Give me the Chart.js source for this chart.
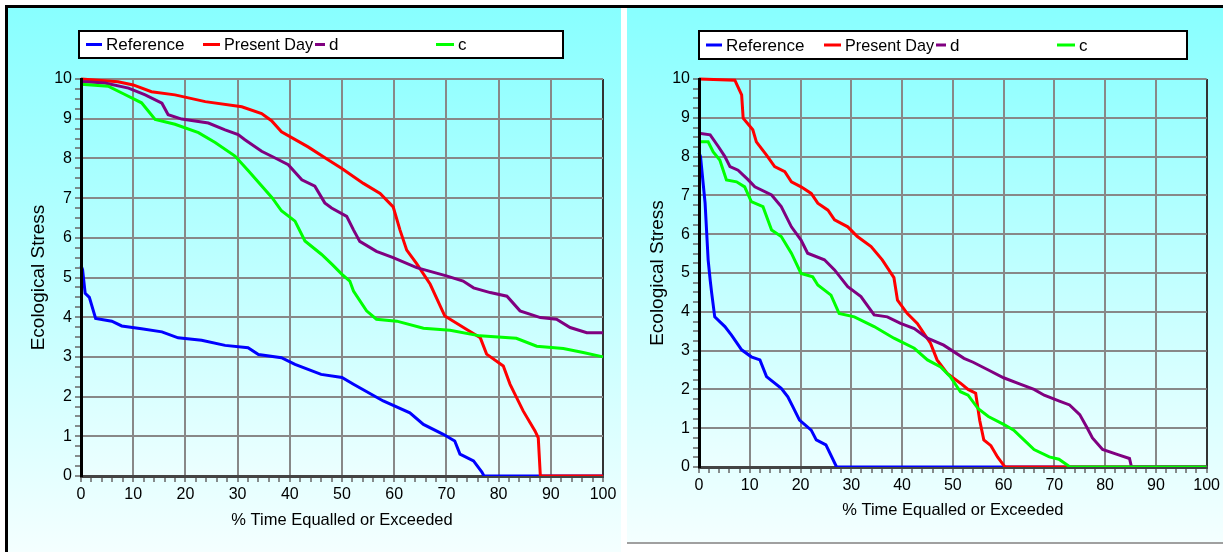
<!DOCTYPE html>
<html>
<head>
<meta charset="utf-8">
<title>Ecological Stress</title>
<script src="https://cdn.jsdelivr.net/npm/chart.js@4.4.0/dist/chart.umd.min.js"></script>
<style>
body { margin: 0; background: #fff; width: 1223px; height: 552px; overflow: hidden; position: relative; }
#topline { position: absolute; left: 5px; top: 5px; width: 1218px; height: 3px; background: #000; }
#leftline { position: absolute; left: 5px; top: 5px; width: 3px; height: 547px; background: #000; }
#bottomline { position: absolute; left: 627px; top: 542px; width: 596px; height: 2px; background: #a0a0a0; }
#chartLeft { position: absolute; left: 8px; top: 8px; }
#chartRight { position: absolute; left: 627px; top: 8px; }
</style>
</head>
<body>
<div id="topline"></div>
<div id="leftline"></div>
<canvas id="chartLeft" width="613" height="544"></canvas>
<canvas id="chartRight" width="596" height="534"></canvas>
<div id="bottomline"></div>
<script>
var seriesNames = ['Reference', 'Present Day', 'd', 'c'];
var seriesColors = ['#0000ff', '#ff0000', '#800080', '#00ff00'];

// left panel
var leftRefPct = [0, 0.3, 0.8, 1.6, 2.8, 5.9, 7.8, 11.6, 15.5, 18.6, 23.1, 27.6, 32, 34, 38.4, 41, 46, 50, 52.2, 57.9, 63, 65.6, 69.4, 71.6, 72.6, 75.2, 76.8, 77.2, 100];
var leftRefStress = [5.3, 5.2, 4.6, 4.5, 3.97, 3.9, 3.78, 3.71, 3.63, 3.48, 3.42, 3.29, 3.23, 3.06, 2.98, 2.81, 2.56, 2.48, 2.31, 1.89, 1.59, 1.3, 1.05, 0.88, 0.55, 0.38, 0.1, 0, 0];
var leftPresentPct = [0, 7.1, 10, 13.5, 18, 23.8, 30.8, 34.6, 36.5, 38.4, 43.5, 47.4, 49.9, 54.1, 57.3, 59.8, 61.1, 62.4, 64.3, 66.9, 69.7, 73.9, 76.5, 77.7, 80.9, 82.2, 84.7, 87, 87.6, 88, 100];
var leftPresentStress = [10, 9.93, 9.85, 9.68, 9.6, 9.43, 9.3, 9.13, 8.95, 8.67, 8.29, 7.96, 7.75, 7.37, 7.12, 6.78, 6.2, 5.69, 5.35, 4.83, 4.03, 3.69, 3.48, 3.07, 2.77, 2.31, 1.64, 1.13, 0.96, 0, 0];
var leftDPct = [0, 4.6, 9.1, 12.3, 15.5, 16.7, 19.3, 24.4, 27.6, 30.1, 31.4, 34.6, 37.2, 39.7, 42.3, 44.8, 46.7, 48, 50.9, 52.2, 53.4, 56.6, 59.8, 64.3, 70, 73.2, 75.2, 78.4, 81.6, 84.1, 88, 91.1, 93.7, 96.9, 100];
var leftDStress = [9.94, 9.9, 9.77, 9.6, 9.39, 9.1, 8.99, 8.89, 8.72, 8.6, 8.47, 8.18, 8.01, 7.84, 7.46, 7.3, 6.88, 6.75, 6.54, 6.2, 5.91, 5.66, 5.5, 5.25, 5.04, 4.91, 4.74, 4.62, 4.53, 4.16, 3.99, 3.95, 3.74, 3.61, 3.61];
var leftCPct = [0, 5.2, 8.4, 11.6, 14.2, 18, 22.5, 25.7, 29.5, 32.1, 36.6, 38.4, 41, 42.9, 46.1, 48.1, 50, 51.5, 52.2, 54.7, 56.6, 60.5, 65.6, 70.7, 76.4, 83.4, 87.3, 92.4, 96.2, 100];
var leftCStress = [9.87, 9.82, 9.61, 9.4, 8.98, 8.86, 8.65, 8.4, 8.06, 7.68, 7.01, 6.68, 6.42, 5.92, 5.58, 5.33, 5.08, 4.91, 4.66, 4.16, 3.95, 3.9, 3.72, 3.67, 3.53, 3.47, 3.27, 3.21, 3.11, 3.0];

// right panel
var rightRefPct = [0, 0.3, 1.2, 1.8, 2.2, 2.5, 3.1, 5.1, 6.4, 8.4, 10.3, 12, 13.3, 16.2, 17.5, 18.5, 19.8, 22.1, 23.1, 25, 27.1, 100];
var rightRefStress = [8.1, 8.0, 6.8, 5.34, 4.82, 4.48, 3.87, 3.62, 3.4, 3.02, 2.84, 2.76, 2.33, 2.03, 1.81, 1.55, 1.21, 0.95, 0.7, 0.57, 0, 0];
var rightPresentPct = [0, 7.06, 8.4, 8.7, 10.6, 11.3, 13.3, 14.9, 16.9, 18.2, 20.1, 22.1, 23.4, 25.4, 26.7, 29.3, 31.2, 33.9, 36.1, 38.4, 39.1, 41, 43, 45.6, 46.9, 48.9, 51.5, 53, 54.5, 55.3, 56.1, 57.5, 58.8, 60, 60.3, 100];
var rightPresentStress = [10, 9.97, 9.59, 8.99, 8.69, 8.38, 8.04, 7.74, 7.61, 7.35, 7.22, 7.05, 6.8, 6.62, 6.37, 6.19, 5.94, 5.68, 5.34, 4.88, 4.3, 3.96, 3.7, 3.19, 2.76, 2.41, 2.16, 2.0, 1.9, 1.2, 0.7, 0.55, 0.26, 0.05, 0, 0];
var rightDPct = [0, 2.2, 3.8, 5.1, 6.1, 7.7, 9.7, 11, 14.3, 16.2, 18.2, 20.1, 21.4, 24.7, 26.7, 29.3, 31.9, 34.5, 37.1, 39.7, 42.4, 45, 48.2, 52.2, 54, 57, 60, 63, 66, 68, 71, 73, 75, 76.5, 77.5, 79.5, 82.5, 84.8, 85.2, 100];
var rightDStress = [8.6, 8.56, 8.26, 8.0, 7.74, 7.65, 7.4, 7.22, 7.01, 6.71, 6.19, 5.85, 5.51, 5.34, 5.08, 4.65, 4.39, 3.92, 3.87, 3.7, 3.57, 3.32, 3.14, 2.8, 2.7, 2.5, 2.3, 2.15, 2.0, 1.85, 1.7, 1.6, 1.35, 1.0, 0.75, 0.45, 0.32, 0.22, 0, 0];
var rightCPct = [0, 1.8, 2.8, 4.1, 5.4, 7.4, 9, 10.3, 12.6, 14.3, 16.2, 18.2, 20.1, 22.4, 23.4, 26, 27.6, 30.6, 34.5, 38.4, 42.4, 45, 47.6, 49.5, 51.5, 53, 55, 57, 60, 62, 64, 66, 69, 70.9, 73.1, 100];
var rightCStress = [8.38, 8.38, 8.12, 7.91, 7.4, 7.35, 7.22, 6.84, 6.71, 6.11, 5.94, 5.51, 4.99, 4.9, 4.69, 4.43, 3.96, 3.87, 3.62, 3.32, 3.06, 2.76, 2.58, 2.33, 1.94, 1.85, 1.5, 1.3, 1.1, 0.95, 0.7, 0.45, 0.26, 0.2, 0, 0];

var fontFamily = '"Liberation Sans", Arial, sans-serif';

function toPoints(xs, ys) {
    return xs.map(function (x, i) { return { x: x, y: ys[i] }; });
}

// gradient page behind the chart, lighter gradient inside the plot area
var panelBackground = {
    id: 'panelBackground',
    beforeDraw: function (chart) {
        var ctx = chart.ctx, a = chart.chartArea;
        var g = ctx.createLinearGradient(0, 0, 0, chart.height);
        g.addColorStop(0, '#88ffff');
        g.addColorStop(1, '#f4ffff');
        ctx.save();
        ctx.fillStyle = g;
        ctx.fillRect(0, 0, chart.width, chart.height);
        var g2 = ctx.createLinearGradient(0, a.top, 0, a.bottom);
        g2.addColorStop(0, '#94ffff');
        g2.addColorStop(1, '#ecffff');
        ctx.fillStyle = g2;
        ctx.fillRect(a.left, a.top, a.right - a.left, a.bottom - a.top);
        ctx.restore();
    }
};

// boxed legend row above the plot; each label is squeezed to fit before the next marker
var boxLegend = {
    id: 'boxLegend',
    afterDraw: function (chart, args, opts) {
        var ctx = chart.ctx;
        ctx.save();
        ctx.fillStyle = '#fff';
        ctx.fillRect(opts.left, opts.top, opts.width, opts.height);
        ctx.lineWidth = 2;
        ctx.strokeStyle = '#000';
        ctx.strokeRect(opts.left, opts.top, opts.width, opts.height);
        var cy = opts.top + opts.height / 2;
        ctx.font = '17px ' + fontFamily;
        ctx.textBaseline = 'middle';
        var ds = chart.data.datasets;
        ds.forEach(function (d, i) {
            var tx = opts.left + opts.offsets[i];
            ctx.strokeStyle = d.borderColor;
            ctx.lineWidth = 3;
            ctx.beginPath();
            ctx.moveTo(tx - opts.dash[i], cy);
            ctx.lineTo(tx - 4, cy);
            ctx.stroke();
            ctx.fillStyle = '#000';
            var room = i + 1 < ds.length
                ? opts.offsets[i + 1] - opts.dash[i + 1] - opts.offsets[i] - 2
                : opts.width - opts.offsets[i] - 4;
            ctx.fillText(d.label, tx, cy + 1, room);
        });
        ctx.restore();
    }
};

function makeChart(id, series, cfg) {
    var datasets = series.map(function (s, i) {
        return {
            label: seriesNames[i],
            data: toPoints(s[0], s[1]),
            borderColor: seriesColors[i],
            backgroundColor: seriesColors[i],
            borderWidth: 3,
            pointRadius: 0,
            tension: 0,
            fill: false,
            clip: { left: 4, top: 4, right: 4, bottom: 0 },
            order: 4 - i
        };
    });
    return new Chart(document.getElementById(id), {
        type: 'line',
        data: { datasets: datasets },
        options: {
            responsive: false,
            maintainAspectRatio: false,
            animation: false,
            layout: { padding: { top: 71, right: cfg.rightPad, bottom: 0, left: 0 } },
            plugins: {
                legend: { display: false },
                tooltip: { enabled: false },
                boxLegend: cfg.legend
            },
            scales: {
                x: {
                    type: 'linear',
                    min: 0,
                    max: 100,
                    ticks: {
                        stepSize: 2,
                        autoSkip: false,
                        maxRotation: 0,
                        padding: 3,
                        color: '#000',
                        font: { family: fontFamily, size: 16 },
                        callback: function (v) { return v % 10 === 0 ? String(v) : ''; }
                    },
                    grid: {
                        lineWidth: 2,
                        tickLength: 6,
                        tickWidth: 1.5,
                        tickColor: '#666',
                        color: function (c) {
                            if (!c.tick || c.tick.value % 10 !== 0) return 'rgba(0,0,0,0)';
                            return c.tick.value === 100 ? '#333' : '#888';
                        }
                    },
                    border: { color: '#444', width: 3 },
                    title: {
                        display: true,
                        text: '% Time Equalled or Exceeded',
                        color: '#000',
                        font: { family: fontFamily, size: 16.5 },
                        padding: { top: 0, bottom: 22 }
                    },
                    afterFit: function (s) { s.height = cfg.xHeight; }
                },
                y: {
                    type: 'linear',
                    min: 0,
                    max: 10,
                    ticks: {
                        stepSize: 0.25,
                        autoSkip: false,
                        padding: 3,
                        color: '#000',
                        font: { family: fontFamily, size: 16 },
                        callback: function (v) { return v % 1 === 0 ? String(v) : ''; }
                    },
                    grid: {
                        lineWidth: 2,
                        tickLength: 6,
                        tickWidth: 1.5,
                        tickColor: '#666',
                        color: function (c) {
                            return (c.tick && c.tick.value % 1 === 0) ? '#888' : 'rgba(0,0,0,0)';
                        }
                    },
                    border: { color: '#000', width: 3, z: 1 },
                    title: {
                        display: true,
                        text: 'Ecological Stress',
                        color: '#000',
                        font: { family: fontFamily, size: 19 },
                        padding: { top: 19, bottom: 0 }
                    },
                    afterFit: function (s) { s.width = cfg.yWidth; }
                }
            }
        },
        plugins: [panelBackground, boxLegend]
    });
}

makeChart('chartLeft', [
    [leftRefPct, leftRefStress],
    [leftPresentPct, leftPresentStress],
    [leftDPct, leftDStress],
    [leftCPct, leftCStress]
], {
    rightPad: 18, xHeight: 76, yWidth: 73,
    legend: { left: 71, top: 23, width: 484, height: 27, offsets: [27, 145, 250, 379], dash: [20, 21, 14, 22] }
});

makeChart('chartRight', [
    [rightRefPct, rightRefStress],
    [rightPresentPct, rightPresentStress],
    [rightDPct, rightDStress],
    [rightCPct, rightCStress]
], {
    rightPad: 14, xHeight: 75, yWidth: 72,
    legend: { left: 72, top: 23, width: 488, height: 28, offsets: [27, 146, 251, 380], dash: [20, 21, 14, 22] }
});
</script>
</body>
</html>
